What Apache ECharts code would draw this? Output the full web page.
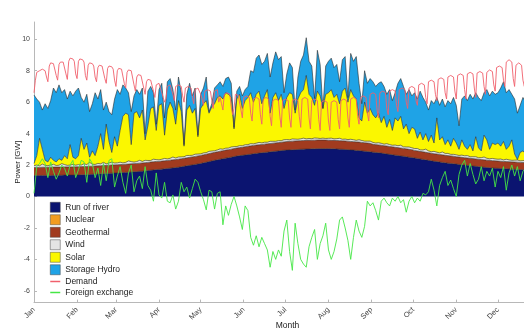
<!DOCTYPE html>
<html><head><meta charset="utf-8">
<script src="https://cdn.jsdelivr.net/npm/echarts@6/dist/echarts.min.js"></script>
<style>html,body{margin:0;padding:0;background:#fff}#c{width:524px;height:331px}</style>
</head><body><div id="c"></div>
<script>
// ---- axis / category definitions ----
const monthLabels = ['Jan','Feb','Mar','Apr','May','Jun','Jul','Aug','Sep','Oct','Nov','Dec'];
const yTickValues = [-6,-4,-2,0,2,4,6,8,10];
const year = 2015;
const genStepDays = 2;     // generation series sampled every 2 days
const demandStepDays = 1;  // demand sampled daily
const fxStepDays = 2;

// ---- generation (GW), stacked, one value every 2 days ----
const runOfRiver = [
1.33,1.33,1.33,1.34,1.34,1.34,1.34,1.35,1.35,1.35,1.35,1.36,1.36,1.36,1.36,1.37,
1.37,1.38,1.38,1.39,1.40,1.41,1.42,1.43,1.44,1.45,1.46,1.47,1.48,1.49,
1.50,1.51,1.52,1.53,1.54,1.56,1.57,1.58,1.60,1.61,1.63,1.65,1.67,1.69,1.71,
1.72,1.74,1.76,1.78,1.80,1.82,1.84,1.86,1.89,1.92,1.95,1.98,2.01,2.04,2.07,
2.10,2.14,2.18,2.22,2.26,2.30,2.33,2.37,2.40,2.44,2.47,2.50,2.54,2.57,2.60,2.62,
2.64,2.67,2.69,2.72,2.74,2.76,2.78,2.80,2.82,2.84,2.86,2.88,2.90,2.92,2.94,
2.95,2.96,2.97,2.98,2.99,3.00,3.01,3.02,3.02,3.03,3.03,3.04,3.04,3.04,3.04,
3.04,3.03,3.03,3.02,3.01,3.00,2.99,2.98,2.96,2.95,2.93,2.92,2.90,2.88,2.86,2.84,
2.82,2.80,2.78,2.76,2.73,2.71,2.68,2.66,2.63,2.61,2.58,2.56,2.53,2.50,2.48,
2.45,2.42,2.39,2.36,2.33,2.30,2.27,2.24,2.22,2.19,2.17,2.14,2.12,2.10,2.08,
2.06,2.04,2.02,2.00,1.98,1.96,1.94,1.92,1.90,1.88,1.86,1.84,1.83,1.81,1.80,
1.79,1.78,1.77,1.76,1.75,1.74,1.73,1.72,1.71,1.70,1.69,1.68,1.68,1.67,1.66,1.66];

const nuclear = [];

const geothermal = [
0.52,0.52,0.52,0.52,0.52,0.52,0.52,0.52,0.52,0.52,0.52,0.52,0.52,0.52,0.52,0.52,
0.52,0.52,0.52,0.52,0.52,0.52,0.52,0.52,0.52,0.52,0.52,0.52,0.52,0.52,
0.52,0.52,0.52,0.52,0.52,0.52,0.52,0.52,0.52,0.52,0.52,0.52,0.52,0.52,0.52,
0.51,0.51,0.51,0.51,0.51,0.51,0.51,0.51,0.51,0.51,0.51,0.51,0.51,0.51,0.51,
0.51,0.51,0.51,0.51,0.51,0.51,0.51,0.51,0.51,0.51,0.51,0.51,0.51,0.51,0.51,0.51,
0.53,0.53,0.53,0.53,0.53,0.53,0.53,0.53,0.53,0.53,0.53,0.53,0.53,0.53,0.53,
0.55,0.55,0.55,0.55,0.55,0.55,0.55,0.55,0.55,0.55,0.55,0.55,0.55,0.55,0.55,
0.54,0.54,0.54,0.54,0.54,0.54,0.54,0.54,0.54,0.54,0.54,0.54,0.54,0.54,0.54,0.54,
0.50,0.50,0.50,0.50,0.50,0.50,0.50,0.50,0.50,0.50,0.50,0.50,0.50,0.50,0.50,
0.48,0.48,0.48,0.48,0.48,0.48,0.48,0.48,0.48,0.48,0.48,0.48,0.48,0.48,0.48,
0.47,0.47,0.47,0.47,0.47,0.47,0.47,0.47,0.47,0.47,0.47,0.47,0.47,0.47,0.47,
0.46,0.46,0.46,0.46,0.46,0.46,0.46,0.46,0.46,0.46,0.46,0.46,0.46,0.46,0.46,0.46];

const wind = [
0.12,0.15,0.10,0.20,0.12,0.10,0.14,0.18,0.10,0.12,0.22,0.15,0.10,0.12,0.16,0.10,
0.14,0.10,0.18,0.12,0.25,0.12,0.10,0.15,0.12,0.20,0.10,0.14,0.18,0.12,
0.12,0.15,0.10,0.12,0.20,0.14,0.10,0.12,0.18,0.10,0.15,0.12,0.10,0.16,0.12,
0.10,0.12,0.15,0.10,0.12,0.18,0.10,0.14,0.12,0.10,0.15,0.12,0.10,0.14,0.12,
0.10,0.12,0.10,0.14,0.12,0.10,0.12,0.15,0.10,0.12,0.10,0.14,0.12,0.10,0.12,0.10,
0.12,0.10,0.14,0.10,0.12,0.15,0.10,0.12,0.10,0.14,0.12,0.10,0.12,0.10,0.14,
0.12,0.10,0.14,0.12,0.10,0.12,0.15,0.10,0.12,0.10,0.14,0.12,0.10,0.12,0.10,
0.12,0.14,0.10,0.12,0.15,0.10,0.12,0.10,0.14,0.12,0.10,0.15,0.12,0.10,0.12,0.14,
0.12,0.10,0.14,0.12,0.10,0.15,0.12,0.10,0.14,0.12,0.18,0.10,0.12,0.15,0.12,
0.12,0.15,0.10,0.12,0.20,0.12,0.10,0.15,0.12,0.10,0.18,0.12,0.14,0.10,0.12,
0.12,0.10,0.14,0.12,0.15,0.10,0.12,0.14,0.10,0.12,0.18,0.12,0.10,0.14,0.12,
0.12,0.14,0.10,0.15,0.12,0.10,0.12,0.14,0.10,0.12,0.15,0.12,0.10,0.12,0.14,0.12];

const solar = [
0.13,0.60,1.75,0.94,0.32,0.24,0.50,0.25,0.23,0.41,0.21,0.57,0.42,1.30,0.46,0.41,
0.57,1.70,0.92,1.37,0.33,0.85,0.56,1.10,1.92,0.83,2.52,1.37,0.62,1.67,
1.06,2.02,2.96,3.13,2.94,1.08,3.11,3.18,2.70,3.27,1.30,2.21,3.31,3.33,1.85,
3.47,3.53,1.48,3.11,3.57,3.09,2.15,3.59,2.88,0.67,2.89,3.19,2.68,2.91,1.10,
2.89,3.13,3.31,2.43,2.81,2.99,3.34,3.37,3.19,3.53,3.42,3.15,1.13,3.02,3.27,2.37,
2.81,3.00,3.24,2.65,3.11,3.26,2.49,2.95,3.35,1.79,2.79,3.09,2.55,2.95,1.99,
2.68,2.99,2.84,1.65,2.56,2.93,3.09,4.03,2.81,2.62,2.08,2.99,2.71,1.89,2.81,
2.90,3.09,2.63,2.82,2.20,3.06,3.25,2.38,3.16,2.79,2.63,1.39,1.24,2.48,1.78,2.08,
1.76,1.60,1.88,1.32,1.77,1.04,1.60,0.94,1.73,1.57,1.84,1.14,1.45,0.85,1.30,
1.25,0.65,1.13,0.64,0.99,0.60,1.05,0.53,2.18,0.83,0.97,0.56,0.86,0.52,1.02,
0.75,0.39,0.97,0.61,0.40,0.77,0.37,1.27,0.63,0.43,1.39,1.17,0.60,0.98,0.91,
1.03,0.82,1.17,0.63,0.87,1.30,0.39,0.03,0.53,0.62,0.40,0.54,0.36,0.45,0.54,0.36];

const storageHydro = [
4.35,3.6,2.3,2.5,3.6,3.4,3.6,4.6,4.4,4.7,4.3,4.2,3.8,3.4,3.9,4.3,
4.3,2.6,3.0,3.1,2.9,3.0,4.0,3.0,2.8,2.5,1.4,1.9,2.4,2.4,
3.6,2.3,2.0,1.6,1.4,2.1,1.1,1.4,1.5,1.4,0.4,2.2,1.4,0.9,0.4,
1.0,1.3,1.1,1.8,1.5,1.2,0.9,1.5,1.2,0.1,1.0,1.4,1.1,1.3,0.1,
0.9,1.0,1.5,0.1,0.2,1.0,0.8,0.9,0.8,0.9,1.1,0.9,0.1,0.5,0.5,0.8,
0.7,0.7,1.4,1.9,2.3,2.3,2.5,2.2,2.3,2.3,2.2,2.6,2.6,2.4,1.0,
1.5,1.9,1.7,0.2,1.4,2.0,2.2,2.4,2.1,2.0,0.4,2.6,2.0,0.0,1.8,
2.0,2.0,1.9,1.9,1.4,2.0,2.0,0.3,2.3,2.2,2.7,2.2,1.1,2.0,1.9,1.9,
2.1,2.0,1.9,2.6,1.9,2.1,1.9,1.9,1.6,2.4,2.4,2.7,1.9,2.8,2.0,
2.3,2.5,2.6,2.7,2.0,2.0,2.2,2.5,1.3,2.2,2.4,2.4,2.5,2.7,2.6,
2.4,1.5,2.6,3.2,3.1,3.2,3.3,2.8,3.2,3.2,2.7,3.2,3.4,3.3,3.2,
3.2,3.7,3.8,3.6,3.6,2.9,3.5,2.95,3.0,3.4,3.3,3.4,3.0,3.1,3.2,3.1];

// ---- demand (GW), daily ----
const demand = [
6.6,7.4,
7.9,7.9,8.0,8.1,8.1,8.05,8.0,
7.6,7.3,8.3,8.5,8.5,8.45,8.35,
7.7,7.4,8.4,8.55,8.6,8.55,8.45,
7.8,7.45,8.6,8.8,8.8,8.75,8.6,
7.8,7.5,8.6,8.75,8.75,8.7,8.55,
7.7,7.4,8.35,8.5,8.5,8.45,8.3,
7.6,7.3,8.2,8.35,8.35,8.3,8.2,
7.5,7.2,8.15,8.3,8.3,8.25,8.1,
7.4,7.0,8.0,8.15,8.15,8.1,8.0,
7.2,6.9,7.9,8.05,8.05,8.0,7.9,
7.1,6.7,7.6,7.75,7.75,7.7,7.6,
6.9,6.5,7.3,7.45,7.45,7.4,7.3,
6.7,6.3,7.1,7.2,7.2,7.1,6.6,
6.3,6.0,6.2,7.0,7.1,7.1,7.0,
6.5,6.1,7.0,7.1,7.1,7.05,7.0,
6.4,6.0,6.9,7.0,7.0,6.95,6.9,
6.3,5.9,6.8,6.9,6.9,6.85,6.5,
6.2,5.8,6.7,6.8,6.8,6.75,6.7,
6.1,5.6,6.7,6.8,6.8,6.0,6.3,
5.9,5.5,6.5,6.6,6.6,6.55,6.5,
5.7,5.2,5.6,6.5,6.5,6.45,6.4,
5.5,5.0,6.3,6.4,6.4,6.35,6.3,
5.3,4.8,6.2,6.3,6.3,6.25,6.2,
5.2,4.6,6.2,6.3,6.3,6.25,6.2,
5.1,4.5,6.1,6.2,6.2,6.15,6.1,
5.1,4.4,6.1,6.2,6.2,6.15,6.1,
5.0,4.4,6.1,6.2,6.2,6.15,6.1,
5.1,4.4,6.2,6.3,6.3,6.25,6.2,
5.0,4.3,6.1,6.2,6.2,6.15,6.1,
4.9,4.2,6.0,6.1,6.1,6.05,6.0,
4.8,4.2,6.0,6.1,6.1,6.05,6.0,
4.9,4.3,6.1,6.2,6.2,6.15,6.1,
5.0,4.4,6.2,6.3,6.3,6.25,6.2,
5.1,4.6,6.3,6.4,6.4,6.35,6.3,
5.3,4.8,6.5,6.6,6.6,6.55,6.5,
5.5,5.0,6.6,6.7,6.7,6.65,6.6,
5.6,5.2,6.7,6.8,6.8,6.75,6.7,
5.8,5.4,6.8,6.9,6.9,6.85,6.8,
6.0,5.6,6.9,7.0,7.0,6.95,6.9,
6.1,5.8,7.1,7.2,7.2,7.15,7.1,
6.3,5.9,7.3,7.4,7.4,7.35,7.3,
6.5,6.1,7.45,7.55,7.55,7.5,7.45,
6.6,6.2,7.6,7.7,7.7,7.65,7.6,
6.7,6.2,7.7,7.8,7.8,7.75,7.7,
6.8,6.2,7.8,7.9,7.9,7.85,7.8,
6.9,6.3,7.85,7.95,7.95,7.9,7.85,
7.0,6.5,7.9,8.0,8.05,8.0,7.95,
7.1,6.7,8.2,8.3,8.3,8.25,8.2,
7.4,7.0,8.55,8.65,8.7,8.65,8.55,
7.5,7.0,8.35,8.45,8.5,8.45,8.35,
7.4,7.0,8.3,8.4,8.3,7.6,6.8,
6.6,6.9,7.8,7.9,7.6,6.9];

// ---- foreign exchange (GW, import > 0), every 2 days ----
const foreignExchange = [
0.2,1.9,2.1,2.4,2.1,1.2,2.2,1.6,1.1,1.5,2.0,1.8,1.3,2.0,2.3,1.2,
1.7,2.3,2.2,0.9,2.4,2.1,1.2,1.8,0.7,2.1,1.0,2.3,2.4,0.6,
1.3,1.9,0.9,0.2,1.5,2.0,0.3,1.0,1.3,0.5,1.9,0.7,0.4,-0.3,1.5,
0.1,-0.1,0.9,-0.3,-0.4,0.1,-0.8,-0.3,0.9,0.3,0.6,-0.1,0.5,1.1,0.9,
0.3,-0.2,-0.85,0.4,0.3,-0.8,0.2,0.3,-1.8,-0.6,-1.2,-0.5,0.0,-0.6,-1.3,-2.1,
-0.6,-0.9,-2.6,-3.1,-2.5,-3.2,-2.6,-3.0,-3.4,-4.5,-3.5,-4.0,-3.4,-3.8,-2.2,
-1.5,-3.5,-4.7,-1.7,-3.0,-4.0,-4.3,-4.5,-3.2,-2.6,-2.1,-4.0,-3.0,-2.5,-1.7,
-3.4,-4.0,-3.5,-2.7,-1.5,-1.3,-2.0,-2.8,-4.0,-2.6,-1.5,-2.2,-2.6,-1.9,-0.3,-0.6,
-0.4,-0.9,-1.5,-0.3,-0.1,-0.4,-0.6,-0.1,-0.3,0.0,-0.4,-0.2,-1.0,-0.3,0.0,
-0.4,-0.1,-0.3,0.2,0.1,0.3,1.1,0.4,-0.6,0.7,1.2,1.6,0.7,1.05,0.5,
0.0,1.4,2.0,2.3,1.3,2.1,1.4,0.8,1.1,1.9,1.0,1.6,1.3,1.8,0.6,
1.6,1.2,1.9,0.4,1.5,2.0,1.3,1.9,1.0,1.6,1.8,1.1,1.2,0.9,1.4,1.0];

// ---- build the chart ----
const DAY = 86400000;
const t0 = Date.UTC(year, 0, 1);
const tEnd = Date.UTC(year + 1, 0, 1);
const toPairs = (arr, step) => arr.map((v, i) => [t0 + i * step * DAY, v]);

const colors = {
  ror: '#0b1470', nuclear: '#f39c1f', geo: '#a13b1f', wind: '#e4e4e4',
  solar: '#fbf700', hydro: '#1fa3e6', demand: '#f0606c', fx: '#45e645'
};
const edge = { width: 0.6, color: '#2b2b2b' };
const FONT = 'Liberation Sans, Arial, sans-serif';
const LINE_ICON = 'path://M0,0h20v3h-20z';

function areaSeries(name, data, color) {
  return {
    name, type: 'line', stack: 'gen', data: toPairs(data, genStepDays),
    symbol: 'none', showSymbol: false, smooth: false,
    lineStyle: edge, itemStyle: { color }, areaStyle: { color, opacity: 1 },
    emphasis: { disabled: true }, z: 2
  };
}

const chart = echarts.init(document.getElementById('c'), null, { renderer: 'canvas' });
chart.setOption({
  animation: false,
  useUTC: true,
  backgroundColor: '#fff',
  textStyle: { fontFamily: FONT },
  grid: { left: 34, right: -17, top: 22, bottom: 28.4, containLabel: false, outerBoundsMode: 'none' },
  legend: {
    orient: 'vertical', left: 50, top: 202, padding: 0,
    itemWidth: 10, itemHeight: 10, itemGap: 2, selectedMode: false, symbolKeepAspect: true,
    textStyle: { fontSize: 8.5, color: '#222', fontFamily: FONT },
    data: [
      { name: 'Run of river', icon: 'rect', itemStyle: { color: colors.ror, borderColor: '#444', borderWidth: 0.5 } },
      { name: 'Nuclear', icon: 'rect', itemStyle: { color: colors.nuclear, borderColor: '#444', borderWidth: 0.5 } },
      { name: 'Geothermal', icon: 'rect', itemStyle: { color: colors.geo, borderColor: '#444', borderWidth: 0.5 } },
      { name: 'Wind', icon: 'rect', itemStyle: { color: colors.wind, borderColor: '#444', borderWidth: 0.5 } },
      { name: 'Solar', icon: 'rect', itemStyle: { color: colors.solar, borderColor: '#444', borderWidth: 0.5 } },
      { name: 'Storage Hydro', icon: 'rect', itemStyle: { color: colors.hydro, borderColor: '#444', borderWidth: 0.5 } },
      { name: 'Demand', icon: LINE_ICON, itemStyle: { color: colors.demand, borderWidth: 0 } },
      { name: 'Foreign exchange', icon: LINE_ICON, itemStyle: { color: colors.fx, borderWidth: 0 } }
    ]
  },
  xAxis: {
    type: 'time', min: t0, max: tEnd,
    minInterval: 28 * DAY, maxInterval: 31 * DAY,
    name: 'Month', nameLocation: 'middle', nameGap: 19, nameMoveOverlap: false,
    nameTextStyle: { fontSize: 8.5, color: '#222', fontFamily: FONT },
    axisLine: { show: true, onZero: false, lineStyle: { color: '#b8b8b8', width: 1 } },
    axisTick: { show: true, inside: true, length: 3, lineStyle: { color: '#b8b8b8' } },
    axisLabel: {
      rotate: 45, fontSize: 7.5, color: '#444', margin: 6, fontFamily: FONT,
      formatter: (v) => monthLabels[new Date(v).getUTCMonth()]
    },
    splitLine: { show: false }
  },
  yAxis: {
    type: 'value', min: -6.75, max: 11.1,
    name: 'Power [GW]', nameLocation: 'middle', nameGap: 12, nameMoveOverlap: false,
    nameTextStyle: { fontSize: 8, color: '#222', fontFamily: FONT },
    axisLine: { show: true, lineStyle: { color: '#b8b8b8', width: 1 } },
    axisTick: { show: true, inside: true, length: 3, customValues: yTickValues, lineStyle: { color: '#b8b8b8' } },
    axisLabel: { customValues: yTickValues, fontSize: 7, color: '#444', margin: 4, fontFamily: FONT },
    splitLine: { show: false }
  },
  series: [
    areaSeries('Run of river', runOfRiver, colors.ror),
    { name: 'Nuclear', type: 'line', data: nuclear, symbol: 'none', itemStyle: { color: colors.nuclear } },
    areaSeries('Geothermal', geothermal, colors.geo),
    areaSeries('Wind', wind, colors.wind),
    areaSeries('Solar', solar, colors.solar),
    areaSeries('Storage Hydro', storageHydro, colors.hydro),
    { name: 'Demand', type: 'line', data: toPairs(demand, demandStepDays), symbol: 'none',
      lineStyle: { width: 0.9, color: colors.demand }, itemStyle: { color: colors.demand }, z: 5 },
    { name: 'Foreign exchange', type: 'line', data: toPairs(foreignExchange, fxStepDays), symbol: 'none',
      lineStyle: { width: 0.9, color: colors.fx }, itemStyle: { color: colors.fx }, z: 6 }
  ]
});
</script>
</body></html>
